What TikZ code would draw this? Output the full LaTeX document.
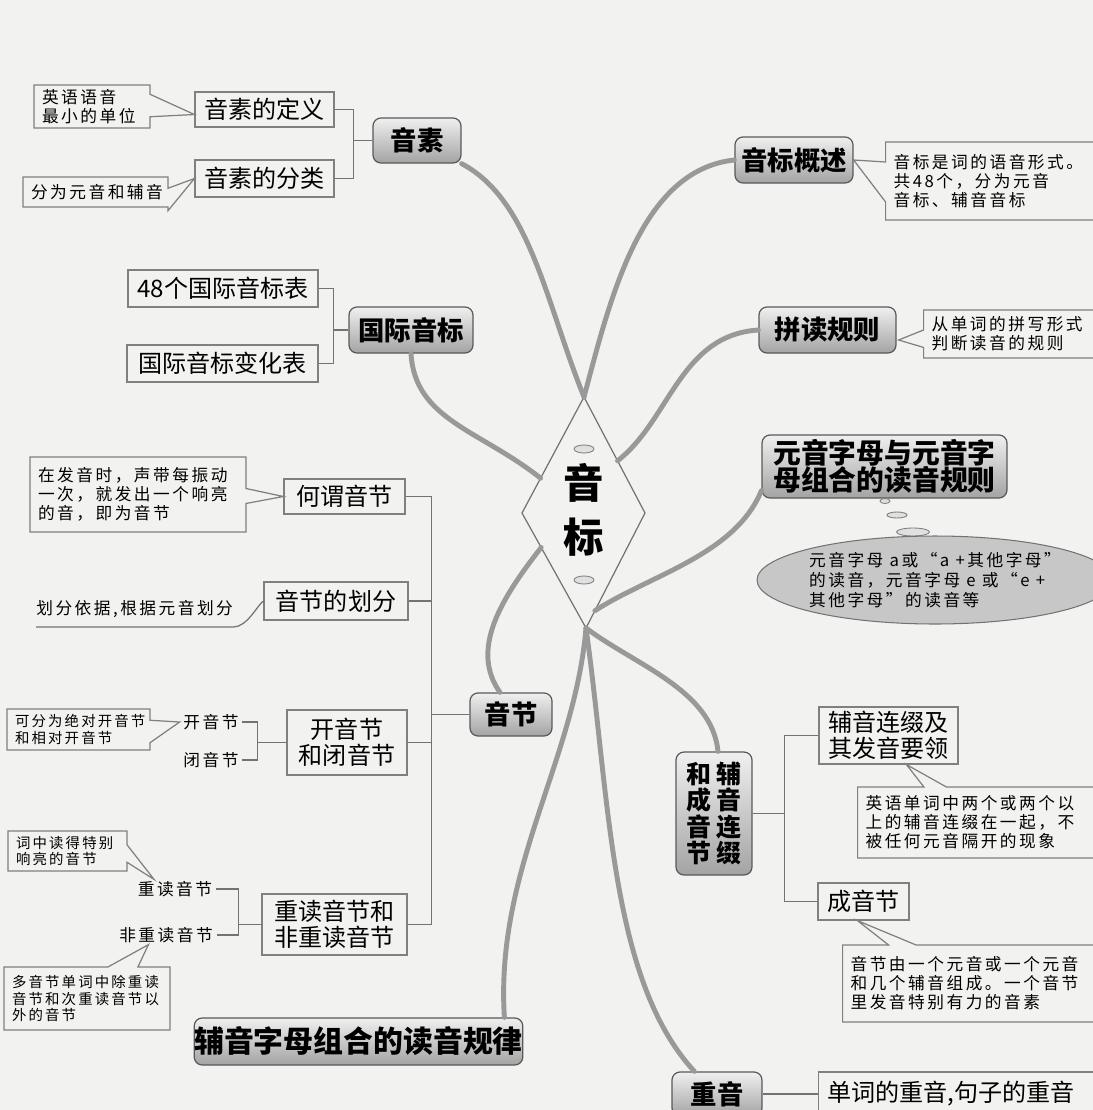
\documentclass[tikz,border=0pt]{standalone}
\usepackage{xcolor}
\usepackage{fontspec}
\setmainfont{Noto Sans CJK SC}
\newfontfamily\notefont[LetterSpace=15]{Noto Sans CJK SC}
\usepackage{tikz}
\usetikzlibrary{shapes.callouts,shapes.geometric,calc}
\definecolor{bgcol}{RGB}{242,242,240}

\begin{document}
\begin{tikzpicture}[x=0.02cm, y=-0.02cm,
    mainbox/.style={rectangle, rounded corners=0.16cm, draw=black!65, line width=0.7pt, top color=black!6, bottom color=black!36, inner sep=0pt, align=center, font=\bfseries\fontsize{15}{15.5}\selectfont},
    subbox/.style={rectangle, draw=black!50, line width=0.7pt, fill=bgcol, inner sep=0pt, align=center, font=\fontsize{13.7}{14.6}\selectfont},
    note/.style={rectangle callout, draw=black!50, line width=0.7pt, fill=bgcol, inner xsep=0.16cm, inner ysep=0pt, align=left, callout pointer width=0.45cm, font=\notefont\fontsize{9.5}{10.8}\selectfont},
    smallnote/.style={note, font=\notefont\fontsize{8.2}{9.6}\selectfont},
    label/.style={inner sep=2pt, font=\notefont\fontsize{9.5}{10.8}\selectfont},
    link/.style={draw=black!55, line width=0.7pt},
    branch/.style={draw=black!40, line width=2.8pt, line cap=round},
    bubble/.style={ellipse, draw=black!50, fill=black!12, line width=0.5pt, inner sep=0pt}]
            \useasboundingbox (0,0) rectangle (1093,1110);
            \fill[bgcol] (0,0) rectangle (1093,1110);
            \clip (0,0) rectangle (1093,1110);

            % Centre
            \coordinate (ctop) at (584,397);
            \coordinate (cright) at (645,513);
            \coordinate (cbot) at (586,628);
            \coordinate (cleft) at (522,513);
            \node[font=\bfseries\fontsize{23}{30.7}\selectfont, align=center] (yinbiao) at (584,510) {音\\标};
            \node[bubble, minimum width=0.4cm, minimum height=0.16cm] (o1) at (584,449) {};
            \node[bubble, minimum width=0.4cm, minimum height=0.16cm] (o2) at (584,580) {};

            % Nodes, left
            \node[mainbox, minimum width=1.76cm, minimum height=0.9cm] (yinsu) at (417,140.5) {音素};
            \node[subbox, minimum width=2.78cm, minimum height=0.7cm] (dingyi) at (264.5,109.5) {音素的定义};
            \node[subbox, minimum width=2.78cm, minimum height=0.74cm] (fenlei) at (264.5,178.5) {音素的分类};
            \node[note, text width=2.0cm, minimum height=0.86cm, callout absolute pointer={($(dingyi.west)+(0,5)$)}] (cdingyi) at (92,106.5) {英语语音\\最小的单位};
            \node[note, text width=2.58cm, minimum height=0.6cm, callout absolute pointer={(fenlei.west)}] (cfenlei) at (95.5,192) {分为元音和辅音};

            \node[mainbox, minimum width=2.48cm, minimum height=0.92cm] (guoji) at (411,330) {国际音标};
            \node[subbox, minimum width=3.8cm, minimum height=0.74cm] (biao48) at (223,288.5) {48个国际音标表};
            \node[subbox, minimum width=3.82cm, minimum height=0.74cm] (bianhua) at (222.5,363.5) {国际音标变化表};

            \node[mainbox, minimum width=1.64cm, minimum height=0.86cm] (yinjie) at (511,714.5) {音节};
            \node[subbox, minimum width=2.42cm, minimum height=0.7cm] (hewei) at (344.5,496.5) {何谓音节};
            \node[note, text width=4.0cm, minimum height=1.5cm, callout pointer width=0.3cm, callout absolute pointer={(hewei.west)}] (chewei) at (138,494.5) {在发音时，声带每振动\\一次，就发出一个响亮\\的音，即为音节};
            \node[subbox, minimum width=2.88cm, minimum height=0.76cm] (huafen) at (336,601) {音节的划分};
            \node[label, anchor=south west, inner xsep=0pt, inner ysep=0.18cm] (hflabel) at (36,627) {划分依据,根据元音划分};
            \node[subbox, minimum width=2.4cm, minimum height=1.3cm] (kaibi) at (347,742.5) {开音节\\和闭音节};
            \node[label] (kai) at (211,722) {开音节};
            \node[label] (bi) at (211,760) {闭音节};
            \node[smallnote, text width=2.54cm, minimum height=0.82cm, callout absolute pointer={(kai.west)}] (ckai) at (78.5,729.5) {可分为绝对开音节\\和相对开音节};
            \node[subbox, minimum width=2.9cm, minimum height=1.22cm] (zhongdu) at (334.5,924.5) {重读音节和\\非重读音节};
            \node[label] (zd) at (175,889) {重读音节};
            \node[label] (fzd) at (166,935) {非重读音节};
            \node[smallnote, text width=2.06cm, minimum height=0.8cm, callout pointer width=0.35cm, callout absolute pointer={($(zd.north west)+(20,2)$)}] (czd) at (67.5,851) {词中读得特别\\响亮的音节};
            \node[smallnote, text width=3.0cm, minimum height=1.26cm, callout pointer width=0.6cm, callout absolute pointer={($(fzd.south west)+(33,-2)$)}] (cfzd) at (87,998.5) {多音节单词中除重读\\音节和次重读音节以\\外的音节};

            \node[mainbox, minimum width=6.22cm, minimum height=0.94cm, font=\bfseries\fontsize{17}{18}\selectfont] (fuzimu) at (358.5,1041.5) {辅音字母组合的读音规律};

            % Nodes, right
            \node[mainbox, minimum width=2.36cm, minimum height=0.92cm] (gaishu) at (794,160) {音标概述};
            \node[note, anchor=west, text width=4.1cm, minimum height=1.56cm, callout pointer width=0.8cm, callout absolute pointer={(gaishu.east)}] (cgaishu) at (885,181) {音标是词的语音形式。\\共48个，分为元音\\音标、辅音音标};
            \node[mainbox, minimum width=2.74cm, minimum height=0.92cm] (pindu) at (827.5,330) {拼读规则};
            \node[note, anchor=west, text width=3.3cm, minimum height=0.96cm, callout pointer width=0.35cm, callout absolute pointer={($(pindu.east)+(2,10)$)}] (cpindu) at (923,334) {从单词的拼写形式\\判断读音的规则};
            \node[mainbox, minimum width=4.9cm, minimum height=1.26cm, font=\bfseries\fontsize{15.8}{15.6}\selectfont] (yuanyin) at (884.5,466.5) {元音字母与元音字\\母组合的读音规则};
            \node[bubble, minimum width=0.2cm, minimum height=0.1cm] (q1) at (885,501) {};
            \node[bubble, minimum width=0.4cm, minimum height=0.12cm] (q2) at (897,515) {};
            \node[bubble, minimum width=0.66cm, minimum height=0.16cm] (q3) at (913,532) {};
            \node[ellipse, draw=black!55, fill=black!22, line width=0.6pt, minimum width=6.1cm, minimum height=1.76cm, inner sep=0pt, align=left, font=\notefont\fontsize{9.5}{11.2}\selectfont] (yyshuo) at (935,580) {元音字母 a或“a +其他字母”\\的读音，元音字母 e 或“e +\\其他字母”的读音等};

            \node[mainbox, minimum width=1.52cm, minimum height=2.46cm, font=\bfseries\fontsize{14.2}{15.1}\selectfont] (fuyin) at (714,813.5) {和 辅\\成 音\\音 连\\节 缀};
            \node[subbox, minimum width=2.78cm, minimum height=1.14cm] (lianzhui) at (888.5,735.5) {辅音连缀及\\其发音要领};
            \node[note, anchor=west, text width=4.6cm, minimum height=1.42cm, callout absolute pointer={($(lianzhui.south)+(18,0)$)}] (clianzhui) at (857,822.5) {英语单词中两个或两个以\\上的辅音连缀在一起，不\\被任何元音隔开的现象};
            \node[subbox, minimum width=1.82cm, minimum height=0.74cm] (chengyin) at (863.5,901.5) {成音节};
            \node[note, anchor=west, text width=4.9cm, minimum height=1.54cm, callout pointer width=0.55cm, callout absolute pointer={($(chengyin.south)+(-6,0)$)}] (ccheng) at (842,983.5) {音节由一个元音或一个元音\\和几个辅音组成。一个音节\\里发音特别有力的音素};
            \node[mainbox, minimum width=1.8cm, minimum height=0.88cm] (zhongyin) at (717,1094) {重音};
            \node[subbox, anchor=west, text width=5.4cm, inner xsep=0.18cm, align=left, minimum height=0.88cm] (danci) at (818,1094) {单词的重音,句子的重音};

            % Edges
            \draw[link] (ctop) -- (cright) -- (cbot) -- (cleft) -- cycle;
            \draw[branch] (ctop) .. controls (545,300) and (530,200) .. (yinsu.south east);
            \draw[branch] (ctop) .. controls (610,300) and (640,170) .. (gaishu.west);
            \draw[branch] ($(cleft)!0.3!(ctop)$) .. controls (480,430) and (415,420) .. (guoji.south);
            \draw[branch] ($(ctop)!0.55!(cright)$) .. controls (670,420) and (680,335) .. (pindu.west);
            \draw[branch] ($(cright)!0.85!(cbot)$) .. controls (650,575) and (735,555) .. ($(yuanyin.south west)+(0,-8)$);
            \draw[branch] ($(cleft)!0.3!(cbot)$) .. controls (500,600) and (470,650) .. ($(yinjie.north)+(-11,0)$);
            \draw[branch] (cbot) .. controls (575,760) and (495,870) .. ($(fuzimu.north east)+(-19,0)$);
            \draw[branch] (cbot) .. controls (610,800) and (610,980) .. ($(zhongyin.north west)+(23,0)$);
            \draw[branch] (cbot) .. controls (635,665) and (712,690) .. ($(fuyin.north)+(4,0)$);

            \draw[link] (yinsu.west) -- ++(-19,0) coordinate (j1);
            \draw[link] (dingyi.east) -| (j1) |- (fenlei.east);
            \draw[link] (guoji.west) -- ++(-15,0) coordinate (j2);
            \draw[link] (biao48.east) -| (j2) |- (bianhua.east);
            \draw[link] (yinjie.west) -- ++(-38,0) coordinate (j3);
            \draw[link] (hewei.east) -| (j3) |- (zhongdu.east);
            \draw[link] (huafen.east) -- (huafen.east -| j3);
            \draw[link] (kaibi.east) -- (kaibi.east -| j3);
            \draw[link] (hflabel.south west) -- (hflabel.south east) .. controls +(14,0) and +(-6,4) .. (huafen.west);
            \draw[link] (kaibi.west) -- ++(-29,0) coordinate (j4);
            \draw[link] (kai.east) -| (j4) |- (bi.east);
            \draw[link] (zhongdu.west) -- ++(-23,0) coordinate (j5);
            \draw[link] (zd.east) -| (j5) |- (fzd.east);
            \draw[link] (fuyin.east) -- ++(32,0) coordinate (j6);
            \draw[link] (lianzhui.west) -| (j6) |- (chengyin.west);
            \draw[link] (zhongyin.east) -- (danci.west);
        \end{tikzpicture}
\end{document}
